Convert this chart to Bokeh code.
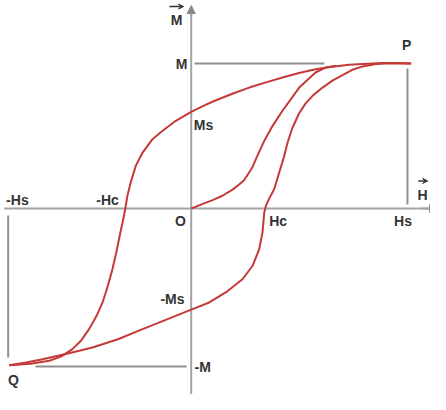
from bokeh.plotting import figure
from bokeh.models import Arrow, NormalHead, VeeHead, Range1d
from bokeh.embed import file_html
from bokeh.resources import INLINE
from bokeh.core.properties import value

# Units: H in units of Hs, M in units of M (saturation)
upper_H = [1.0, 0.93, 0.87, 0.80, 0.718, 0.64, 0.565, 0.49, 0.415, 0.34, 0.264, 0.19,
           0.110, 0.055, 0.0, -0.07, -0.130, -0.176, -0.221, -0.252, -0.275, -0.290,
           -0.300, -0.312, -0.325, -0.340, -0.358, -0.38, -0.403, -0.43, -0.464, -0.50,
           -0.540, -0.59, -0.645, -0.73, -0.827]
upper_M = [1.0, 1.003, 1.003, 0.998, 0.991, 0.978, 0.961, 0.935, 0.903, 0.87, 0.834, 0.793,
           0.745, 0.708, 0.667, 0.605, 0.536, 0.478, 0.386, 0.294, 0.179, 0.088,
           -0.005, -0.097, -0.188, -0.30, -0.419, -0.54, -0.648, -0.74, -0.832, -0.91,
           -0.970, -1.02, -1.050, -1.07, -1.081]

lower_H = [-0.827, -0.75, -0.676, -0.56, -0.449, -0.33, -0.221, -0.11, 0.006, 0.082,
           0.157, 0.233, 0.279, 0.309, 0.324, 0.332, 0.340, 0.355, 0.377, 0.400,
           0.423, 0.438, 0.46, 0.49, 0.52, 0.555, 0.597, 0.64, 0.688, 0.73, 0.779,
           0.84, 0.91, 1.0]
lower_M = [-1.081, -1.062, -1.039, -1.0, -0.959, -0.9, -0.832, -0.765, -0.694, -0.648,
           -0.579, -0.488, -0.395, -0.281, -0.166, -0.028, 0.02, 0.07, 0.133, 0.248,
           0.363, 0.455, 0.555, 0.655, 0.725, 0.782, 0.834, 0.88, 0.92, 0.955, 0.98,
           0.996, 1.002, 1.0]

virgin_H = [0.0, 0.05, 0.097, 0.142, 0.188, 0.218, 0.24, 0.262, 0.28, 0.294, 0.33, 0.37,
            0.415, 0.491, 0.565, 0.61, 0.66]
virgin_M = [0.0, 0.03, 0.058, 0.088, 0.13, 0.165, 0.195, 0.245, 0.29, 0.340, 0.46, 0.57,
            0.674, 0.834, 0.938, 0.972, 0.985]

# guide lines
guide_x0 = [0.015, 0.983, -0.832, -0.708]
guide_y0 = [1.0, 0.966, -0.048, -1.09]
guide_x1 = [0.605, 0.983, -0.832, -0.021]
guide_y1 = [1.0, 0.028, -1.028, -1.09]

# labels
label_text = ["M", "P", "-Hs", "-Hc", "O", "Hc", "Hs", "-Ms", "Q"]
label_x = [-0.044, 0.979, -0.79, -0.38, -0.049, 0.395, 0.963, -0.085, -0.808]
label_y = [1.0, 1.131, 0.062, 0.062, -0.083, -0.083, -0.083, -0.621, -1.186]
left_text = ["Ms", "-M"]
left_x = [0.012, 0.015]
left_y = [0.579, -1.09]
vec_text = ["M", "H"]
vec_x = [-0.066, 1.052]
vec_y = [1.297, 0.09]

p = figure(width=430, height=394, output_backend="svg", toolbar_location=None,
           x_range=Range1d(-0.8668, 1.0877), y_range=Range1d(-1.2828, 1.4345),
           min_border=0)
p.axis.visible = False
p.grid.visible = False
p.outline_line_color = None
p.background_fill_color = "white"

axis_col = "#a3a3a3"
# axes
p.segment(x0=[-0.85], y0=[0.0], x1=[1.12], y1=[0.0], line_color=axis_col, line_width=2)
p.segment(x0=[0.0], y0=[-1.40], x1=[0.0], y1=[1.36], line_color=axis_col, line_width=2)
p.add_layout(Arrow(end=NormalHead(size=8, fill_color="#888888", line_color="#888888"),
                   x_start=0.0, y_start=1.33, x_end=0.0, y_end=1.40,
                   line_color=axis_col, line_width=2))
p.add_layout(Arrow(end=NormalHead(size=8, fill_color="#888888", line_color="#888888"),
                   x_start=1.05, y_start=0.0, x_end=1.12, y_end=0.0,
                   line_color=axis_col, line_width=2))

# guide lines
p.segment(x0=guide_x0, y0=guide_y0, x1=guide_x1, y1=guide_y1,
          line_color="#8f8f8f", line_width=2)

red = "#c43a36"
p.line(upper_H, upper_M, line_color=red, line_width=2)
p.line(lower_H, lower_M, line_color=red, line_width=2)
p.line(virgin_H, virgin_M, line_color=red, line_width=2)

font = value("Liberation Sans")
p.text(x=label_x, y=label_y, text=label_text, text_font=font, text_font_style="bold",
       text_font_size="14px", text_color="#333333", text_align="center",
       text_baseline="middle")
p.text(x=left_x, y=left_y, text=left_text, text_font=font, text_font_style="bold",
       text_font_size="14px", text_color="#333333", text_align="left",
       text_baseline="middle")

# vector labels
p.text(x=vec_x, y=vec_y, text=vec_text, text_font=font,
       text_font_style="bold", text_font_size="14px", text_color="#333333",
       text_align="center", text_baseline="middle")
p.add_layout(Arrow(end=VeeHead(size=5, line_color="#333333", fill_color="#333333"),
                   x_start=-0.099, y_start=1.393, x_end=-0.035, y_end=1.393,
                   line_color="#333333", line_width=1.5))
p.add_layout(Arrow(end=VeeHead(size=5, line_color="#333333", fill_color="#333333"),
                   x_start=1.032, y_start=0.19, x_end=1.075, y_end=0.19,
                   line_color="#333333", line_width=1.5))

open("out.html", "w").write(file_html(p, INLINE))
